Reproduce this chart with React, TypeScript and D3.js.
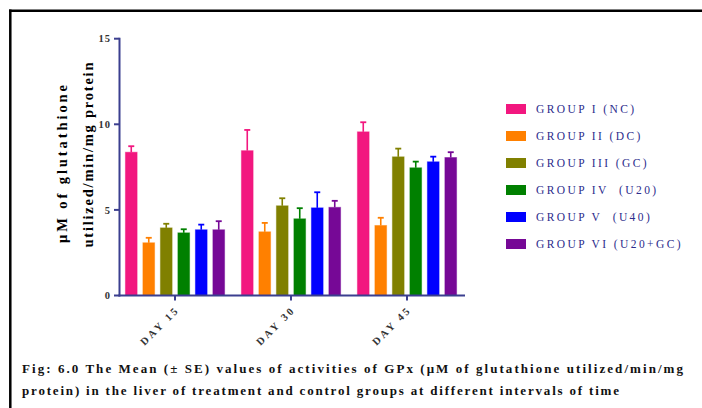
import React from "react";
import * as d3 from "d3";

const days = ["DAY 15", "DAY 30", "DAY 45"];
const groups = ["GROUP I (NC)", "GROUP II (DC)", "GROUP III (GC)", "GROUP IV  (U20)", "GROUP V  (U40)", "GROUP VI (U20+GC)"];
const colors = ["#F2177F", "#FF8000", "#808000", "#008000", "#0000FF", "#760896"];
// means per group, across days
const means = [
  [8.37, 8.46, 9.56],
  [3.08, 3.72, 4.09],
  [3.95, 5.24, 8.10],
  [3.66, 4.48, 7.46],
  [3.84, 5.12, 7.81],
  [3.84, 5.15, 8.06],
];
const errors = [
  [0.35, 1.21, 0.56],
  [0.29, 0.52, 0.45],
  [0.24, 0.44, 0.48],
  [0.21, 0.62, 0.36],
  [0.30, 0.91, 0.30],
  [0.50, 0.38, 0.31],
];
const yTicks = [0, 5, 10, 15];
const caption1 = "Fig: 6.0 The Mean (± SE) values of activities of GPx (μM of glutathione utilized/min/mg";
const caption2 = "protein) in the liver of treatment and control groups at different intervals of time";

export default function App() {
  const W = 702, H = 408;
  const y = d3.scaleLinear().domain([0, 15]).range([295.5, 38.7]);
  const x = d3.scaleBand().domain(days).range([117, 465]);
  const xi = d3.scaleBand().domain(groups).range([0, x.bandwidth()]).paddingInner(0.33).paddingOuter(0.48);
  const axisColor = "#3B3F8F";
  const serif = "'Liberation Serif', 'Times New Roman', serif";
  return (
    <svg width={W} height={H} style={{ position: "absolute", left: 0, top: 0, background: "#fff" }} fontFamily={serif}>
      <rect x={0} y={0} width={W} height={H} fill="#fff" />
      {/* frame */}
      <line x1={9} x2={W} y1={10.8} y2={10.8} stroke="#000" strokeWidth={2.5} />
      <line x1={10.3} x2={10.3} y1={9.5} y2={H} stroke="#000" strokeWidth={2.5} />

      {/* bars */}
      {groups.map((g, gi) =>
        days.map((d, di) => {
          const bx = (x(d) as number) + (xi(g) as number);
          const bw = xi.bandwidth();
          const v = means[gi][di];
          const e = errors[gi][di];
          const cx = bx + bw / 2;
          return (
            <g key={g + d}>
              <rect x={bx} y={y(v)} width={bw} height={y(0) - y(v)} fill={colors[gi]} stroke={colors[gi]} strokeOpacity={0.45} strokeWidth={1} />
              <line x1={cx} x2={cx} y1={y(v)} y2={y(v + e)} stroke={colors[gi]} strokeWidth={1.6} />
              <line x1={cx - 3} x2={cx + 3} y1={y(v + e)} y2={y(v + e)} stroke={colors[gi]} strokeWidth={1.8} />
            </g>
          );
        })
      )}

      {/* y axis */}
      <line x1={119.5} x2={119.5} y1={y(15) - 1} y2={y(0) + 1} stroke={axisColor} strokeWidth={2} />
      {yTicks.map((t) => (
        <g key={t}>
          <line x1={114} x2={119.5} y1={y(t)} y2={y(t)} stroke={axisColor} strokeWidth={2} />
          <text x={111} y={y(t)} dy="0.35em" textAnchor="end" fontSize={10.5} fontWeight="bold" fill="#333" letterSpacing={1}>
            {t}
          </text>
        </g>
      ))}
      {/* x axis */}
      <line x1={118.5} x2={465} y1={y(0)} y2={y(0)} stroke={axisColor} strokeWidth={2} />
      {days.map((d) => {
        const cx = (x(d) as number) + x.bandwidth() / 2;
        return (
          <g key={d}>
            <line x1={cx} x2={cx} y1={y(0)} y2={y(0) + 5} stroke={axisColor} strokeWidth={2} />
            <text transform={`translate(${cx + 5},${y(0) + 15}) rotate(-45)`} textAnchor="end" fontSize={10.5} fontWeight="bold" fill="#333" letterSpacing={2.6}>
              {d}
            </text>
          </g>
        );
      })}

      {/* y label */}
      <text transform="translate(67,164) rotate(-90)" textAnchor="middle" fontSize={14.5} fontWeight="bold" fill="#000" textLength={158} lengthAdjust="spacing">
        μM of glutathione
      </text>
      <text transform="translate(93,155) rotate(-90)" textAnchor="middle" fontSize={14.5} fontWeight="bold" fill="#000" textLength={185} lengthAdjust="spacing">
        utilized/min/mg protein
      </text>

      {/* legend */}
      {groups.map((g, gi) => {
        const ly = 109 + gi * 27;
        return (
          <g key={g}>
            <rect x={506} y={ly - 5} width={20} height={10} fill={colors[gi]} />
            <text x={536} y={ly} dy="0.36em" fontSize={11.5} fill="#2C2C8C" letterSpacing={2.4} style={{ whiteSpace: "pre" }}>
              {g}
            </text>
          </g>
        );
      })}

      {/* caption */}
      <text x={22} y={373} fontSize={13} fontWeight="bold" fill="#111" textLength={661} lengthAdjust="spacing">
        {caption1}
      </text>
      <text x={22} y={395} fontSize={13} fontWeight="bold" fill="#111" textLength={597} lengthAdjust="spacing">
        {caption2}
      </text>
    </svg>
  );
}
